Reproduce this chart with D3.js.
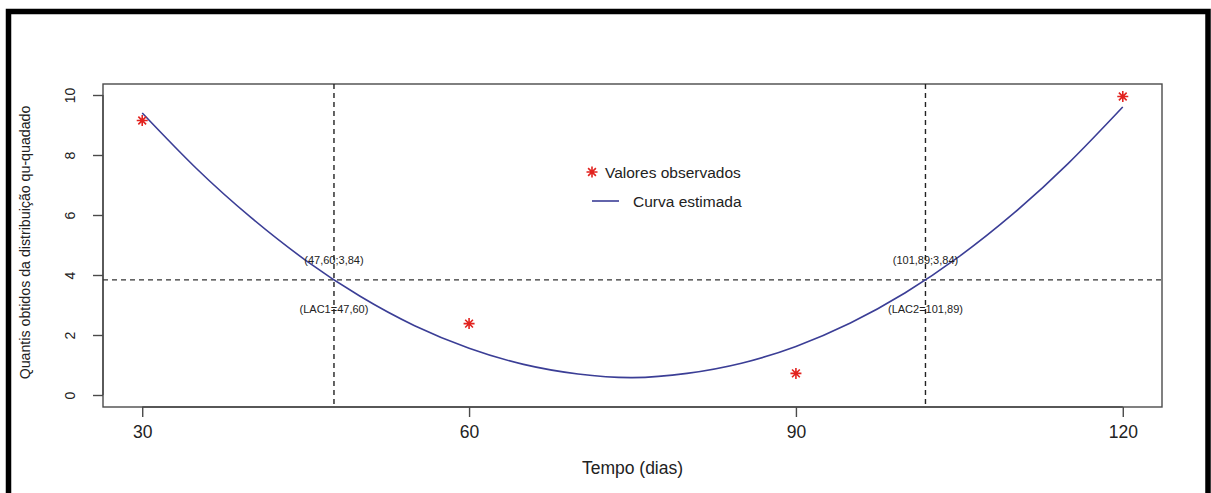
<!DOCTYPE html>
<html>
<head>
<meta charset="utf-8">
<script src="https://cdn.jsdelivr.net/npm/d3@7"></script>
<style>
  html, body { margin: 0; padding: 0; background: #fff; }
  svg { display: block; font-family: "Liberation Sans", Arial, sans-serif; }
</style>
</head>
<body>
<svg id="chart" width="1211" height="493"></svg>
<script>
// Observed chi-square quantiles by time (days)
const obsDays = [30, 60, 90, 120];
const obsValues = [9.15, 2.38, 0.72, 9.95];

// Estimated (fitted) curve, read at 5-day steps
const curveDays = [30, 35, 40, 45, 50, 55, 60, 65, 70, 75, 80, 85, 90, 95, 100, 105, 110, 115, 120];
const curveValues = [9.40, 7.54, 5.91, 4.49, 3.29, 2.31, 1.56, 1.02, 0.70, 0.58, 0.72, 1.06, 1.62, 2.40, 3.40, 4.62, 6.06, 7.72, 9.60];

// Critical value and the two crossing times
const critValue = 3.84;
const lacDays = [47.60, 101.89];
const lacPointLabels = ["(47,60;3,84)", "(101,89;3,84)"];
const lacNameLabels = ["(LAC1=47,60)", "(LAC2=101,89)"];

const xTicks = [30, 60, 90, 120];
const yTicks = [0, 2, 4, 6, 8, 10];
const legendLabels = ["Valores observados", "Curva estimada"];

const svg = d3.select("#chart");

const plot = { left: 103, right: 1162, top: 84, bottom: 407 };

const x = d3.scaleLinear().domain([26.4, 123.6]).range([plot.left, plot.right]);
const y = d3.scaleLinear().domain([-0.4, 10.4]).range([plot.bottom, plot.top - 1]);

const axisColor = "#4a4a4a";
const lineColor = "#3b3e96";
const starColor = "#e2231f";

// Outer black frame
svg.append("rect")
  .attr("x", 8.5).attr("y", 11.5)
  .attr("width", 1199.5).attr("height", 600)
  .attr("fill", "none").attr("stroke", "#000").attr("stroke-width", 5.5);

// Plot box
svg.append("rect")
  .attr("x", plot.left).attr("y", plot.top)
  .attr("width", plot.right - plot.left).attr("height", plot.bottom - plot.top)
  .attr("fill", "none").attr("stroke", axisColor).attr("stroke-width", 1.4);

// X axis
const xAxis = svg.append("g")
  .attr("transform", `translate(0,${plot.bottom})`)
  .call(d3.axisBottom(x).tickValues(xTicks).tickSize(10).tickPadding(9).tickFormat(d3.format("d")));
xAxis.select(".domain").attr("d", `M${x(30)},0H${x(120)}`).attr("stroke", axisColor).attr("stroke-width", 1.4);
xAxis.selectAll(".tick line").attr("stroke", axisColor).attr("stroke-width", 1.4);
xAxis.selectAll(".tick text")
  .attr("font-size", 17.5).attr("fill", "#222")
  .attr("font-family", "'Liberation Sans', Arial, sans-serif");

// Y axis with rotated labels
const yAxis = svg.append("g")
  .attr("transform", `translate(${plot.left},0)`)
  .call(d3.axisLeft(y).tickValues(yTicks).tickSize(10).tickFormat(d3.format("d")));
yAxis.select(".domain").attr("d", `M0,${y(0)}V${y(10)}`).attr("stroke", axisColor).attr("stroke-width", 1.4);
yAxis.selectAll(".tick line").attr("stroke", axisColor).attr("stroke-width", 1.4);
yAxis.selectAll(".tick text")
  .attr("x", null).attr("dy", null)
  .attr("font-size", 14).attr("fill", "#222")
  .attr("font-family", "'Liberation Sans', Arial, sans-serif")
  .attr("text-anchor", "middle")
  .attr("transform", "translate(-28,0) rotate(-90)")
  .attr("y", 0);

// Axis titles
svg.append("text")
  .attr("x", x(75)).attr("y", 474)
  .attr("text-anchor", "middle")
  .attr("font-size", 17.5).attr("fill", "#222")
  .text("Tempo (dias)");

svg.append("text")
  .attr("transform", `translate(30,${(plot.top + plot.bottom) / 2 - 3}) rotate(-90)`)
  .attr("text-anchor", "middle")
  .attr("font-size", 14.2).attr("fill", "#222")
  .text("Quantis obtidos da distribuição qu-quadado");

// Reference lines
svg.append("line")
  .attr("x1", plot.left).attr("x2", plot.right)
  .attr("y1", y(critValue)).attr("y2", y(critValue))
  .attr("stroke", "#333").attr("stroke-width", 1.2).attr("stroke-dasharray", "5,4");

svg.selectAll(".vline").data(lacDays).enter().append("line")
  .attr("class", "vline")
  .attr("x1", d => x(d)).attr("x2", d => x(d))
  .attr("y1", plot.top).attr("y2", plot.bottom)
  .attr("stroke", "#222").attr("stroke-width", 1.4).attr("stroke-dasharray", "5,4");

// Fitted curve
const line = d3.line().x((d, i) => x(curveDays[i])).y(d => y(d)).curve(d3.curveNatural);
svg.append("path")
  .attr("d", line(curveValues))
  .attr("fill", "none").attr("stroke", lineColor).attr("stroke-width", 1.6);

// Asterisk marker path
function asterisk(r) {
  const d = r * Math.SQRT1_2;
  return `M${-r},0H${r}M0,${-r}V${r}M${-d},${-d}L${d},${d}M${-d},${d}L${d},${-d}`;
}

svg.selectAll(".obs").data(obsValues).enter().append("path")
  .attr("class", "obs")
  .attr("transform", (d, i) => `translate(${x(obsDays[i])},${y(d)})`)
  .attr("d", asterisk(5.5))
  .attr("stroke", starColor).attr("stroke-width", 1.6).attr("fill", "none");

// Crossing annotations
svg.selectAll(".lacPt").data(lacDays).enter().append("text")
  .attr("class", "lacPt")
  .attr("x", d => x(d)).attr("y", y(critValue) - 16)
  .attr("text-anchor", "middle").attr("font-size", 11).attr("fill", "#222")
  .text((d, i) => lacPointLabels[i]);

svg.selectAll(".lacName").data(lacDays).enter().append("text")
  .attr("class", "lacName")
  .attr("x", d => x(d)).attr("y", y(critValue) + 33)
  .attr("text-anchor", "middle").attr("font-size", 11).attr("fill", "#222")
  .text((d, i) => lacNameLabels[i]);

// Legend
const legend = svg.append("g").attr("transform", "translate(592,172)");
legend.append("path").attr("d", asterisk(5.5)).attr("stroke", starColor).attr("stroke-width", 1.6).attr("fill", "none");
legend.append("text").attr("x", 13).attr("y", 5.5).attr("font-size", 15.5).attr("fill", "#222").text(legendLabels[0]);
legend.append("line").attr("x1", 0).attr("x2", 27).attr("y1", 29).attr("y2", 29)
  .attr("stroke", lineColor).attr("stroke-width", 1.6);
legend.append("text").attr("x", 41).attr("y", 34.5).attr("font-size", 15.5).attr("fill", "#222").text(legendLabels[1]);
</script>
</body>
</html>
